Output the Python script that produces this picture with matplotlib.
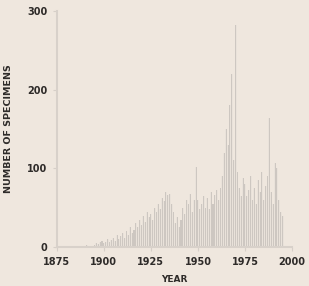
import numpy as np
import matplotlib
matplotlib.use('Agg')
import matplotlib.pyplot as plt

years = list(range(1875, 1996))
counts = [
    0, 0, 0, 0, 0,
    1, 0, 2, 1, 0, 1, 2, 1, 0, 2, 1, 3, 2, 1, 2,
    3, 5, 4, 6, 8, 5, 7, 10, 6, 9,
    12, 8, 15, 10, 14, 18, 12, 20, 16, 25,
    18, 22, 30, 25, 35, 28, 40, 32, 45, 38,
    42, 35, 50, 45, 55, 48, 62, 58, 70, 66,
    68, 55, 45, 30, 38, 25, 35, 50, 42, 60,
    55, 68, 45, 60, 102, 60, 48, 55, 65, 50,
    62, 48, 70, 55, 66, 72, 60, 75, 90, 120,
    150, 130, 180, 220, 110, 282, 95, 75, 65, 88,
    80, 65, 72, 90, 60, 75, 55, 85, 70, 95,
    60, 78, 90, 164, 70, 55, 107, 100, 60, 45, 40,
]
yticks = [0, 100, 200, 300]
xticks = [1875, 1900, 1925, 1950, 1975, 2000]

bg = '#efe7de'
txt = '#2e2b29'

fig = plt.figure(figsize=(3.09, 2.86), dpi=100, facecolor=bg)
ax = fig.add_axes([0.184, 0.136, 0.761, 0.826], facecolor=bg)

# soft haze behind the bars, then the bars themselves
ax.bar(years, counts, width=1.0, color='#e9e2da', edgecolor='none')
ax.bar(years, counts, width=0.55, color='#cdc7c1', edgecolor='none')

ax.set_xlim(1875, 2000)
ax.set_ylim(0, 300)
ax.set_xticks(xticks)
ax.set_yticks(yticks)
ax.tick_params(axis='both', length=3, width=0.8, color='#d6cfc8', pad=4,
               labelsize=7, labelcolor=txt)
for lab in ax.get_xticklabels() + ax.get_yticklabels():
    lab.set_fontweight('bold')

for s in ['top', 'right']:
    ax.spines[s].set_visible(False)
for s in ['left', 'bottom']:
    ax.spines[s].set_color('#d8d1ca')
    ax.spines[s].set_linewidth(1.5)

ax.set_xlabel('YEAR', fontsize=6.5, fontweight='bold', color=txt, labelpad=6)
ax.set_ylabel('NUMBER OF SPECIMENS', fontsize=6.8, fontweight='bold', color=txt,
              labelpad=10)

fig.savefig('out.png', dpi=100, facecolor=bg)
